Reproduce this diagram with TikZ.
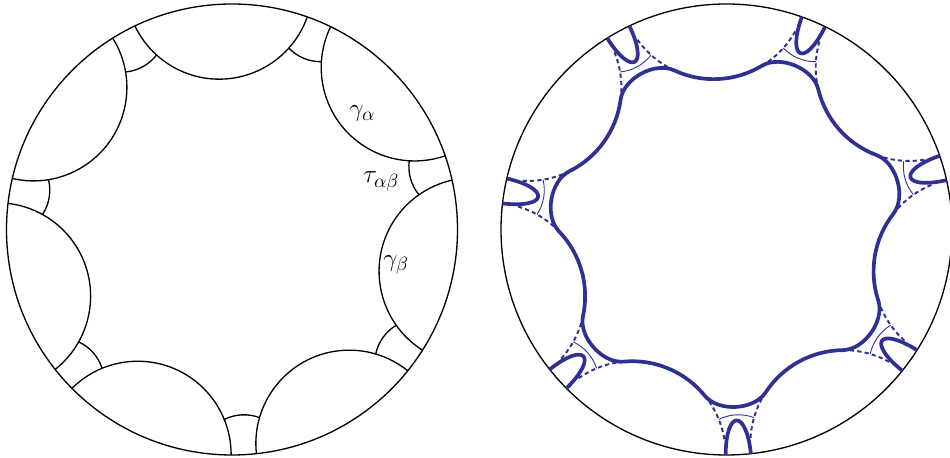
\documentclass[tikz,border=0pt]{standalone}
\usepackage{tikz}
\usetikzlibrary{calc}
\definecolor{curveblue}{RGB}{46,49,146}
\def\geodesic[#1](#2:#3){\draw[#1] ({#2-#3}:1) arc[start angle={#2+270-#3}, end angle={#2+90+#3}, radius={tan(#3)}];}
\def\perparc[#1](#2){\draw[#1] ({#2+5.32}:0.8431) arc[start angle={#2+156.45}, end angle={#2+203.55}, radius=0.1958];}
\tikzset{
	disc/.style={line width=0.75pt},
	thickcurve/.style={curveblue, line width=2.1pt},
	dashcurve/.style={curveblue, line width=1.1pt, dash pattern=on 2.4pt off 1.8pt},
	thincurve/.style={curveblue, line width=0.5pt},
	label/.style={font=\fontsize{15}{18}\selectfont, inner sep=1pt}
}

\begin{document}
\begin{tikzpicture}
			%%%%% START %%%%%
			
			\useasboundingbox (0, 0) rectangle (19, 9.16);
			
			\begin{scope}[shift={(4.64, 4.57)}, scale=4.51]
				\draw[disc] (0, 0) circle (1);
				\foreach \k [evaluate=\k as \m using 67.286-51.4286*\k] in {0,...,6}{
					\geodesic[disc](\m+25.714:22.5)
					\perparc[disc](\m)
				}
				\node[label] (galpha) at (0.578, 0.515) {$\gamma_\alpha$};
				\node[label] (tauab) at (0.662, 0.212) {$\tau_{\alpha\beta}$};
				\node[label] (gbeta) at (0.728, -0.157) {$\gamma_\beta$};
			\end{scope}
			
			\begin{scope}[shift={(14.53, 4.57)}, scale=4.51]
				\draw[disc] (0, 0) circle (1);
				\draw[thickcurve] ({67.286+10.532}:0.7426)
					\foreach \k [evaluate=\k as \m using 67.286-51.4286*\k] in {0,...,6}{
						.. controls ({\m+5.592}:0.8112) and ({\m-5.592}:0.8112) .. ({\m-10.532}:0.7426)
						arc[start angle=\m+126.286, end angle=\m+182.286, radius=0.4142]
					} -- cycle;
				\foreach \k [evaluate=\k as \m using 67.286-51.4286*\k] in {0,...,6}{
					\draw[dashcurve] ({\m+10.532}:0.7426) arc[start angle=\m+233.714, end angle=\m+263.714, radius=0.4142];
					\draw[dashcurve] ({\m-10.532}:0.7426) arc[start angle=\m+126.286, end angle=\m+96.286, radius=0.4142];
					\perparc[thincurve](\m)
					\draw[thickcurve] ({\m+3.214}:1) .. controls ({\m+3.214}:0.799) and ({\m-3.214}:0.799) .. ({\m-3.214}:1);
				}
			\end{scope}
			
			%%%%% END %%%%%
\end{tikzpicture}
\end{document}
